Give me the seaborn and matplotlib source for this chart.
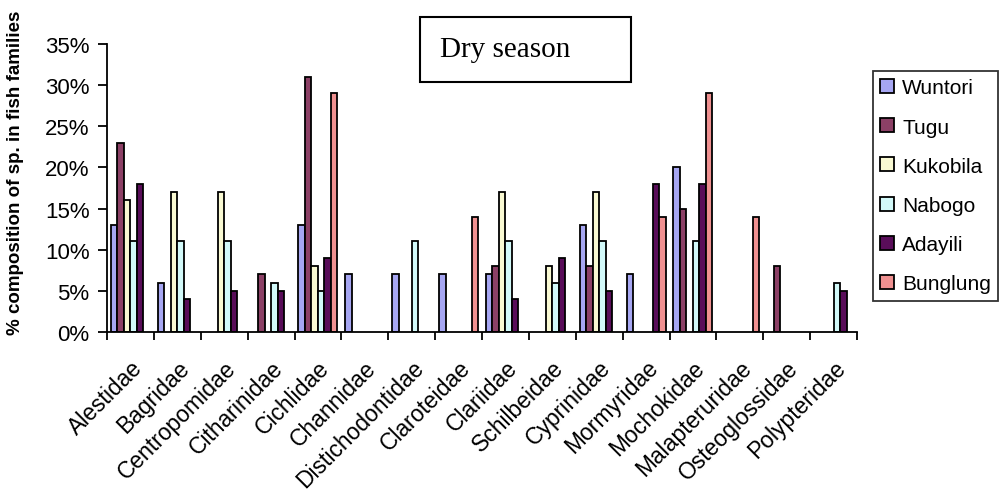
import numpy as np
import pandas as pd
import seaborn as sns
import matplotlib
matplotlib.use("Agg")
import matplotlib.pyplot as plt
from matplotlib.ticker import PercentFormatter, FixedLocator
from matplotlib.patches import Rectangle

families = ["Alestidae", "Bagridae", "Centropomidae", "Citharinidae", "Cichlidae",
            "Channidae", "Distichodontidae", "Claroteidae", "Clariidae", "Schilbeidae",
            "Cyprinidae", "Mormyridae", "Mochokidae", "Malapteruridae", "Osteoglossidae",
            "Polypteridae"]
sites = ["Wuntori", "Tugu", "Kukobila", "Nabogo", "Adayili", "Bunglung"]

wuntori  = [13, 6, 0, 0, 13, 7, 7, 7, 7, 0, 13, 7, 20, 0, 0, 0]
tugu     = [23, 0, 0, 7, 31, 0, 0, 0, 8, 0, 8, 0, 15, 0, 8, 0]
kukobila = [16, 17, 17, 0, 8, 0, 0, 0, 17, 8, 17, 0, 0, 0, 0, 0]
nabogo   = [11, 11, 11, 6, 5, 0, 11, 0, 11, 6, 11, 0, 11, 0, 0, 6]
adayili  = [18, 4, 5, 5, 9, 0, 0, 0, 4, 9, 5, 18, 18, 0, 0, 5]
bunglung = [0, 0, 0, 0, 29, 0, 0, 14, 0, 0, 0, 14, 29, 14, 0, 0]

colors = ["#9999FF", "#993366", "#FFFFCC", "#CCFFFF", "#660066", "#FF8080"]

series = [wuntori, tugu, kukobila, nabogo, adayili, bunglung]
rows = []
for s, vals in zip(sites, series):
    for f, v in zip(families, vals):
        rows.append({"family": f, "site": s, "value": v})
df = pd.DataFrame(rows)
df_nonzero = df[df["value"] > 0]

sns.set_theme(style="white")
plt.rcParams["font.family"] = ["Liberation Sans", "DejaVu Sans"]
plt.rcParams["text.color"] = "black"
plt.rcParams["axes.labelcolor"] = "black"
plt.rcParams["xtick.color"] = "black"
plt.rcParams["ytick.color"] = "black"

W, H = 1002, 502
fig = plt.figure(figsize=(W / 100, H / 100), dpi=100)
ax = fig.add_axes([107 / W, 1 - 333 / H, (857 - 107) / W, (333 - 45) / H])

sns.barplot(data=df_nonzero, x="family", y="value", hue="site",
            order=families, hue_order=sites, palette=colors,
            edgecolor="black", linewidth=1.3, width=0.83, dodge=True,
            errorbar=None, ax=ax, legend=True)

ax.set_xlim(-0.5, len(families) - 0.5)
ax.set_ylim(0, 35)
ax.yaxis.set_major_locator(FixedLocator(np.arange(0, 36, 5)))
ax.yaxis.set_major_formatter(PercentFormatter(100, decimals=0))
ax.tick_params(axis="y", labelsize=16, length=6.5, width=1.3, color="black",
               direction="out", left=True, pad=6, labelcolor="black")

ax.set_xticks(np.arange(len(families)))
ax.set_xticklabels(families, rotation=45, ha="right", rotation_mode="anchor",
                   fontsize=16.5, color="black")
ax.tick_params(axis="x", which="major", length=0, pad=17)
ax.set_xticks(np.arange(len(families) + 1) - 0.5, minor=True)
ax.tick_params(axis="x", which="minor", length=6, width=1.3, color="black",
               direction="out", bottom=True)

for side in ["top", "right"]:
    ax.spines[side].set_visible(False)
for side in ["left", "bottom"]:
    ax.spines[side].set_color("black")
    ax.spines[side].set_linewidth(1.3)
ax.grid(False)
ax.set_xlabel("")
ax.set_ylabel("")

fig.text(16 / W, 1 - 173 / H, "% composition of sp. in fish families",
         rotation=90, ha="center", va="center", fontsize=13.5,
         fontweight="bold", color="black")

# legend
handles, labels = ax.get_legend_handles_labels()
leg = ax.legend(handles, labels, loc="upper left",
                bbox_to_anchor=(873 / W, 1 - 72 / H),
                bbox_transform=fig.transFigure,
                fontsize=15, frameon=True, fancybox=False, shadow=False,
                handlelength=0.65, handleheight=0.65, handletextpad=0.4,
                labelspacing=0.97, borderpad=0.35, borderaxespad=0,
                labelcolor="black")
leg.get_frame().set_edgecolor("black")
leg.get_frame().set_linewidth(1.3)
for h in leg.legend_handles:
    h.set_edgecolor("black")
    h.set_linewidth(1.3)

# "Dry season" box
fig.patches.append(Rectangle((420 / W, 1 - 83 / H), (631 - 420) / W, (83 - 18) / H,
                             transform=fig.transFigure, fill=False,
                             edgecolor="black", linewidth=1.5))
fig.text(440 / W, 1 - 50 / H, "Dry season", fontsize=21,
         family=["Liberation Serif", "DejaVu Serif"], ha="left", va="center",
         color="black")

fig.savefig("out.png", dpi=100, facecolor="white")
